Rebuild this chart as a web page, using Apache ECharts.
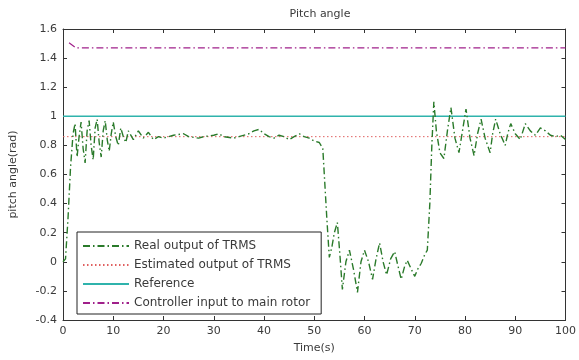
<!DOCTYPE html>
<html>
<head>
<meta charset="utf-8">
<script src="https://cdn.jsdelivr.net/npm/echarts@6/dist/echarts.min.js"></script>
<style>
  html, body { margin: 0; padding: 0; background: #fff; }
  #chart { width: 579px; height: 360px; }
</style>
</head>
<body>
<div id="chart"></div>
<script>
// values
const realTime = [0, 0.5, 1, 1.5, 2, 2.4, 2.8, 3.2, 3.6, 4, 4.4, 4.8, 5.2, 5.6, 6, 6.4, 6.8, 7.2, 7.6, 8, 8.4, 8.8, 9.2, 9.6, 10, 10.5, 11, 11.5, 12, 12.5, 13, 14, 15, 16, 17, 18, 19, 20, 22, 24, 25, 27, 28, 30, 31, 32, 34, 35, 37, 38, 39, 40, 41, 42, 43, 44, 45, 46, 47, 48, 49, 50, 51, 51.7, 52, 52.5, 53, 53.5, 54, 54.6, 55.1, 55.6, 56.3, 57, 57.8, 58.6, 59.3, 60, 60.8, 61.6, 62.3, 63, 63.7, 64.4, 65.2, 66, 66.6, 67.3, 68, 68.5, 69.3, 70, 70.6, 71.3, 72, 72.5, 73, 73.4, 73.8, 74.3, 75, 75.8, 76.5, 77.2, 78, 78.8, 79.5, 80.2, 81, 81.8, 82.5, 83.2, 84, 85, 85.5, 86.1, 87, 88, 88.5, 89.1, 90, 91, 92, 93, 94, 95, 96, 97, 98, 99, 100];
const realOutput = [0.0, 0.02, 0.3, 0.65, 0.88, 0.95, 0.72, 0.86, 0.96, 0.78, 0.68, 0.9, 0.97, 0.8, 0.7, 0.92, 0.98, 0.82, 0.72, 0.9, 0.97, 0.84, 0.76, 0.88, 0.96, 0.86, 0.8, 0.92, 0.86, 0.82, 0.9, 0.84, 0.9, 0.85, 0.89, 0.84, 0.86, 0.85, 0.87, 0.88, 0.86, 0.85, 0.86, 0.87, 0.88, 0.86, 0.85, 0.86, 0.88, 0.9, 0.91, 0.88, 0.86, 0.85, 0.87, 0.86, 0.84, 0.86, 0.88, 0.86, 0.85, 0.83, 0.82, 0.78, 0.6, 0.3, 0.03, 0.1, 0.2, 0.27, 0.05, -0.19, 0.0, 0.08, -0.05, -0.21, 0.0, 0.08, 0.0, -0.12, 0.02, 0.13, 0.0, -0.09, 0.02, 0.07, -0.02, -0.12, -0.03, 0.01, -0.05, -0.1, -0.05, -0.01, 0.05, 0.08, 0.4, 0.8, 1.1, 0.9, 0.75, 0.71, 0.9, 1.06, 0.85, 0.75, 0.9, 1.05, 0.85, 0.73, 0.88, 0.98, 0.85, 0.75, 0.88, 0.98, 0.88, 0.8, 0.88, 0.95, 0.88, 0.84, 0.95, 0.9, 0.87, 0.92, 0.9, 0.87, 0.86, 0.87, 0.84];

const estTime = [0, 100];
const estOutput = [0.86, 0.86];

const refTime = [0, 100];
const refValue = [1, 1];

const ctrlTime = [1.2, 2.6, 100];
const ctrlInput = [1.505, 1.47, 1.47];

const seriesNames = ['Real output of TRMS', 'Estimated output of TRMS', 'Reference', 'Controller input to main rotor'];
const yTickLabels = ['-0.4', '-0.2', '0', '0.2', '0.4', '0.6', '0.8', '1', '1.2', '1.4', '1.6'];

const pairs = (xs, ys) => xs.map((x, i) => [x, ys[i]]);

const chart = echarts.init(document.getElementById('chart'));

const font = 'DejaVu Sans';
const textColor = '#3a3a3a';

const baseX = {
  type: 'value', min: 0, max: 100, interval: 10,
  axisLine: { onZero: false, lineStyle: { color: '#333', width: 1 } },
  axisTick: { inside: true, length: 4, lineStyle: { color: '#333' } },
  splitLine: { show: false }
};
const baseY = {
  type: 'value', min: -0.4, max: 1.6, interval: 0.2,
  axisLine: { onZero: false, lineStyle: { color: '#333', width: 1 } },
  axisTick: { inside: true, length: 4, lineStyle: { color: '#333' } },
  splitLine: { show: false }
};

const lineSeries = (name, data, color, type, width, z) => ({
  name, type: 'line', data, symbol: 'none', z,
  lineStyle: { color, width, type },
  itemStyle: { color },
  animation: false
});

chart.setOption({
  backgroundColor: '#fff',
  animation: false,
  title: {
    text: 'Pitch angle', left: 315, top: 4, textAlign: 'center',
    textStyle: { fontFamily: font, fontSize: 11, fontWeight: 'normal', color: textColor }
  },
  grid: { left: 62, right: 12, top: 29, bottom: 40 },
  xAxis: [
    Object.assign({}, baseX, {
      position: 'bottom',
      name: 'Time(s)', nameLocation: 'middle', nameGap: 23,
      nameTextStyle: { fontFamily: font, fontSize: 11, color: textColor },
      axisLabel: { fontFamily: font, fontSize: 11, color: textColor, margin: 6 }
    }),
    Object.assign({}, baseX, { position: 'top', axisLabel: { show: false } })
  ],
  yAxis: [
    Object.assign({}, baseY, {
      position: 'left',
      name: 'pitch angle(rad)', nameLocation: 'middle', nameGap: 44, nameRotate: 90,
      nameTextStyle: { fontFamily: font, fontSize: 11, color: textColor },
      axisLabel: {
        fontFamily: font, fontSize: 11, color: textColor, margin: 6,
        formatter: v => yTickLabels[Math.round((v + 0.4) / 0.2)]
      }
    }),
    Object.assign({}, baseY, { position: 'right', axisLabel: { show: false } })
  ],
  legend: {
    left: 77, top: 232, orient: 'vertical',
    itemWidth: 46, itemHeight: 12, itemGap: 7,
    padding: [8, 11, 5, 5],
    backgroundColor: '#fff', borderColor: '#222', borderWidth: 1,
    itemStyle: { opacity: 0 },
    textStyle: { fontFamily: font, fontSize: 12, color: textColor },
    data: seriesNames
  },
  series: [
    lineSeries(seriesNames[0], pairs(realTime, realOutput), '#2a7a2a', [7, 3, 1.5, 3], 1.4, 4),
    lineSeries(seriesNames[1], pairs(estTime, estOutput), '#e06060', [1.5, 2.5], 1, 3),
    lineSeries(seriesNames[2], pairs(refTime, refValue), '#2fb3ac', 'solid', 1.5, 2),
    lineSeries(seriesNames[3], pairs(ctrlTime, ctrlInput), '#a0208a', [7, 3, 1.5, 3], 1.2, 2)
  ]
});
</script>
</body>
</html>
